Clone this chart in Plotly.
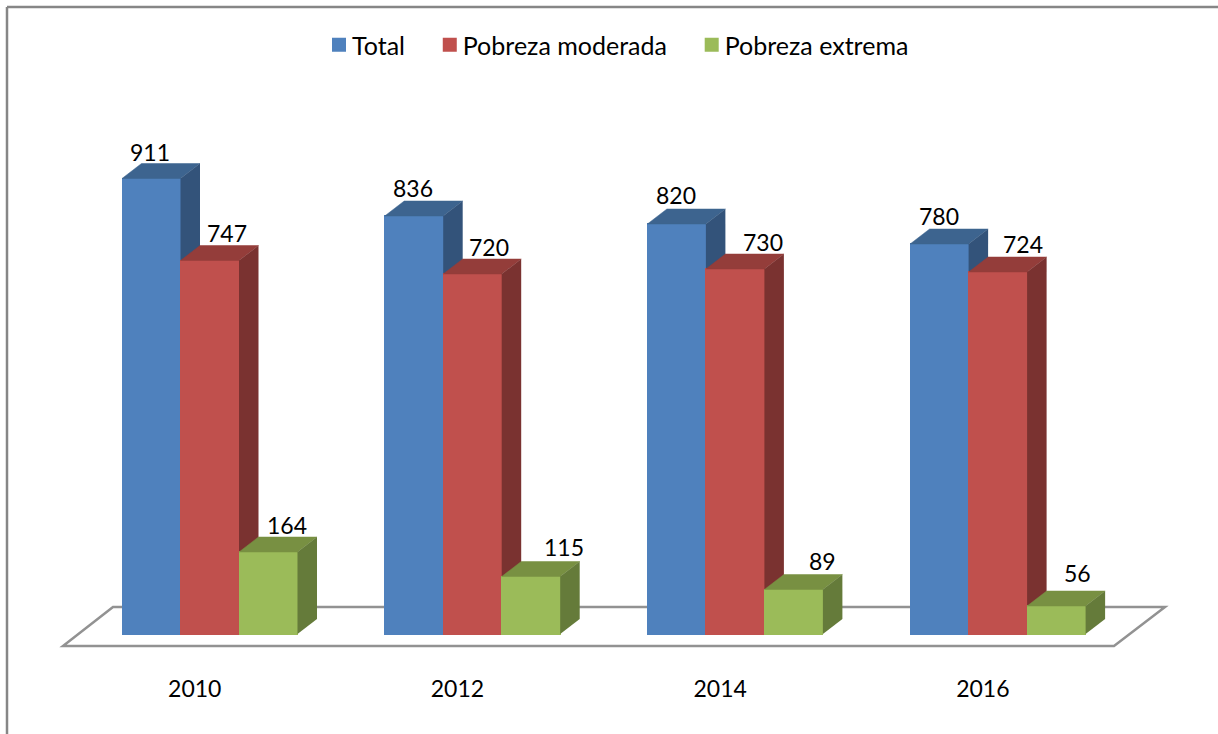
import plotly.graph_objects as go

# ---- data ----
years = ["2010", "2012", "2014", "2016"]
total = [911, 836, 820, 780]
moderada = [747, 720, 730, 724]
extrema = [164, 115, 89, 56]

# ---- styling ----
names = ["Total", "Pobreza moderada", "Pobreza extrema"]
front = ["#4F81BD", "#C0504D", "#9BBB59"]
top_c = ["#3D648F", "#943D3A", "#789042"]
side_c = ["#33537A", "#7A3230", "#657B3A"]
FONT = "Lato, Carlito, Calibri, sans-serif"

W, H = 1218, 734
PLOT_BOTTOM = 672          # pixel row of plot-area bottom
BASE_PX = 634              # pixel row of value 0
PX_PER_VAL = 0.5
GROUP_PX = 262.7
BAR_PX = 58.5
C0_PX = 209.75             # pixel column of first group's centre
DX_PX, DY_PX = 19.5, 15.0  # 3-D depth
STROKE = 2.0               # same-colour stroke: closes seams, sizes legend swatch
BAR_OVERLAP = 1.0          # pixels of front-face overlap that hide antialiasing seams
LEGEND_PAD = "\u00a0\u00a0"  # widens legend entries to the reference's spacing
LEGEND_TEXT_SHIFT = 7      # pixels: tighter swatch-to-text gap

xr = [-C0_PX / GROUP_PX, (W - C0_PX) / GROUP_PX]
yr = [-(PLOT_BOTTOM - BASE_PX) / PX_PER_VAL, BASE_PX / PX_PER_VAL]
bw = BAR_PX / GROUP_PX
dx = DX_PX / GROUP_PX
dy = DY_PX / PX_PER_VAL

# hand-placed data label offsets from bar centre (pixels)
label_dx = [[-1, -1, -1, 0], [17, 17, 28, 25], [19, 33, 29, 21]]
label_dy = [[27, 28, 29, 28], [28, 27, 27, 28], [27, 30, 29, 33]]

fig = go.Figure()
positions = list(range(len(years)))
series = [total, moderada, extrema]
annots = []

for s, vals in enumerate(series):
    axn = "" if s == 0 else str(s + 1)
    xa, ya = "x" + axn, "y" + axn
    off = (s - 1) * bw
    centers = [p + off for p in positions]
    fig.add_trace(go.Bar(
        x=centers, y=vals, width=bw - (STROKE - BAR_OVERLAP) / GROUP_PX,
        name=names[s] + (LEGEND_PAD if s < len(names) - 1 else ""),
        marker=dict(color=front[s], line=dict(color=front[s], width=STROKE)),
        xaxis=xa, yaxis=ya, showlegend=True, legendgroup=names[s],
        hoverinfo="y",
    ))
    for c, v in zip(centers, vals):
        l, r = c - bw / 2, c + bw / 2
        # top face
        fig.add_trace(go.Scatter(
            x=[l, r, r + dx, l + dx, l], y=[v, v, v + dy, v + dy, v],
            mode="lines", fill="toself", fillcolor=top_c[s],
            line=dict(color=top_c[s], width=0.5), xaxis=xa, yaxis=ya,
            showlegend=False, hoverinfo="skip", legendgroup=names[s],
        ))
        # side face
        fig.add_trace(go.Scatter(
            x=[r, r + dx, r + dx, r, r], y=[0, dy, v + dy, v, 0],
            mode="none", fill="toself", fillcolor=side_c[s],
            xaxis=xa, yaxis=ya,
            showlegend=False, hoverinfo="skip", legendgroup=names[s],
        ))
    for i, (c, v) in enumerate(zip(centers, vals)):
        annots.append(dict(
            x=c, y=v, xref="x", yref="y", text=str(v), showarrow=False,
            xshift=label_dx[s][i], yshift=label_dy[s][i],
            font=dict(family=FONT, size=23, color="#000000"),
            xanchor="center", yanchor="middle",
        ))


def fx(px):
    return (px - C0_PX) / GROUP_PX


def fy(py):
    return (BASE_PX - py) / PX_PER_VAL


floor = [(63, 646), (1114, 646), (1165, 607), (113, 607), (63, 646)]
floor_path = "M " + " L ".join(f"{fx(a)},{fy(b)}" for a, b in floor) + " Z"
FRAME_Y = (PLOT_BOTTOM - 7) / PLOT_BOTTOM
shapes = [
    dict(type="path", path=floor_path, xref="x", yref="y", layer="below",
         line=dict(color="#929292", width=2.5), fillcolor="#FFFFFF"),
    # outer chart frame
    dict(type="line", xref="paper", yref="paper", layer="below",
         x0=7 / W, x1=7 / W, y0=-0.2, y1=FRAME_Y,
         line=dict(color="#868686", width=2.5)),
    dict(type="line", xref="paper", yref="paper", layer="below",
         x0=7 / W, x1=1, y0=FRAME_Y, y1=FRAME_Y,
         line=dict(color="#868686", width=2.5)),
]

hidden = dict(visible=False, range=xr, fixedrange=True)
fig.update_layout(
    width=W, height=H, autosize=False,
    margin=dict(l=0, r=0, t=0, b=H - PLOT_BOTTOM),
    paper_bgcolor="#FFFFFF", plot_bgcolor="rgba(0,0,0,0)",
    barmode="overlay", bargap=0,
    xaxis=dict(range=xr, tickmode="array",
               tickvals=[p - 15 / GROUP_PX for p in positions], ticktext=years,
               showgrid=False, zeroline=False, showline=False, ticks="",
               ticklabelstandoff=1,
               tickfont=dict(family=FONT, size=23, color="#000000"), fixedrange=True),
    yaxis=dict(range=yr, visible=False, showgrid=False, zeroline=False, fixedrange=True),
    xaxis2=dict(hidden, overlaying="x", anchor="y2"),
    yaxis2=dict(range=yr, visible=False, overlaying="y", anchor="x2", fixedrange=True),
    xaxis3=dict(hidden, overlaying="x", anchor="y3"),
    yaxis3=dict(range=yr, visible=False, overlaying="y", anchor="x3", fixedrange=True),
    legend=dict(orientation="h", x=319 / W, y=(PLOT_BOTTOM - 45) / PLOT_BOTTOM,
                xref="paper", yref="paper", xanchor="left", yanchor="middle",
                traceorder="grouped", tracegroupgap=14,
                font=dict(family=FONT, size=25, color="#000000"),
                bgcolor="rgba(0,0,0,0)", itemclick=False, itemdoubleclick=False),
    shapes=shapes, annotations=annots, showlegend=True,
)
post = (
    "document.body.style.margin='0';document.body.style.overflow='hidden';"
    "document.querySelectorAll('.legendtext').forEach(function(t){"
    "t.setAttribute('x', parseFloat(t.getAttribute('x')) - %d);});" % LEGEND_TEXT_SHIFT
)
fig.write_html("out.html", config={"displayModeBar": False}, post_script=post)
